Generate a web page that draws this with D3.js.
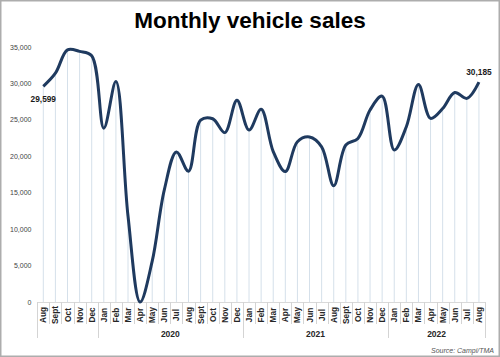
<!DOCTYPE html>
<html><head><meta charset="utf-8">
<script src="https://cdn.jsdelivr.net/npm/d3@7"></script>
<style>body{margin:0;background:#fff}svg{display:block}</style>
</head><body>
<svg id="c" width="500" height="357"></svg>
<script>
const months = ["Aug","Sept","Oct","Nov","Dec","Jan","Feb","Mar","Apr","May","Jun","Jul","Aug","Sept","Oct","Nov","Dec","Jan","Feb","Mar","Apr","May","Jun","Jul","Aug","Sept","Oct","Nov","Dec","Jan","Feb","Mar","Apr","May","Jun","Jul","Aug"];
const years = [{label:"",from:0,to:4},{label:"2020",from:5,to:16},{label:"2021",from:17,to:28},{label:"2022",from:29,to:36}];
const sales = [29599,31400,34600,34400,33800,23850,30250,11800,0,5600,15400,20600,17950,24950,25150,23250,27700,23600,26450,20650,17900,22000,22650,21300,15950,21550,22450,26350,28250,20850,24050,29850,25200,26550,28750,27950,30185];
const yTicks = [0,5000,10000,15000,20000,25000,30000,35000];
const title = "Monthly vehicle sales";
const source = "Source: Campi/TMA";

const svg = d3.select("#c");
const W=500,H=357;
svg.append("rect").attr("x",0.75).attr("y",0.75).attr("width",W-1.5).attr("height",H-1.5).attr("fill","#fff").attr("stroke","#adadad").attr("stroke-width",1.5);

const x = d3.scaleBand().domain(d3.range(months.length)).range([37.25,485]).padding(0);
const y = d3.scaleLinear().domain([0,35000]).range([302,47]);
const cx = i => x(i)+x.bandwidth()/2;

svg.append("text").attr("x",250).attr("y",28).attr("text-anchor","middle")
  .attr("font-family","Liberation Sans, Arial, sans-serif").attr("font-weight","bold").attr("font-size",22.5).attr("fill","#000").text(title);

svg.append("g").selectAll("text").data(yTicks).join("text")
  .attr("x",31.5).attr("y",d=>y(d)+2.5).attr("text-anchor","end")
  .attr("font-family","Liberation Sans, Arial, sans-serif").attr("font-size",7).attr("fill","#444")
  .text(d=>d3.format(",")(d));

svg.append("g").selectAll("line").data(sales).join("line")
  .attr("x1",(d,i)=>cx(i)).attr("x2",(d,i)=>cx(i)).attr("y1",d=>y(d)).attr("y2",y(0))
  .attr("stroke","#d5e0ea").attr("stroke-width",1);

svg.append("line").attr("x1",x.range()[0]).attr("x2",x.range()[1]).attr("y1",y(0)+0.5).attr("y2",y(0)+0.5).attr("stroke","#d9d9d9");

const bounds = d3.range(months.length+1).map(i=> i<months.length ? x(i) : x.range()[1]);
const yearBounds = new Set([0,5,17,29,37]);
svg.append("g").selectAll("line").data(bounds).join("line")
  .attr("x1",d=>Math.round(d)+0.5).attr("x2",d=>Math.round(d)+0.5)
  .attr("y1",y(0)).attr("y2",(d,i)=>yearBounds.has(i)?338:324)
  .attr("stroke","#d4d4d4").attr("stroke-width",1);

svg.append("g").selectAll("text").data(months).join("text")
  .attr("transform",(d,i)=>`translate(${cx(i)+3},315) rotate(-90)`)
  .attr("text-anchor","middle")
  .attr("font-family","Liberation Sans, Arial, sans-serif").attr("font-weight","bold").attr("font-size",8.3).attr("fill","#262626")
  .text(d=>d);

svg.append("g").selectAll("text").data(years.filter(d=>d.label)).join("text")
  .attr("x",d=>(cx(d.from)+cx(d.to))/2).attr("y",336.5).attr("text-anchor","middle")
  .attr("font-family","Liberation Sans, Arial, sans-serif").attr("font-weight","bold").attr("font-size",8.5).attr("fill","#262626")
  .text(d=>d.label);

const line = d3.line().x((d,i)=>cx(i)).y(d=>y(d)).curve(d3.curveCatmullRom.alpha(0.5));
svg.append("path").datum(sales).attr("d",line).attr("fill","none").attr("stroke","#1f3a5f").attr("stroke-width",3).attr("stroke-linejoin","round");

const last = sales.length-1;
svg.append("text").attr("x",cx(0)).attr("y",y(sales[0])+16).attr("text-anchor","middle")
  .attr("font-family","Liberation Sans, Arial, sans-serif").attr("font-weight","bold").attr("font-size",8.3).attr("fill","#1a1a1a").text(d3.format(",")(sales[0]));
svg.append("text").attr("x",cx(last)).attr("y",y(sales[last])-7).attr("text-anchor","middle")
  .attr("font-family","Liberation Sans, Arial, sans-serif").attr("font-weight","bold").attr("font-size",8.3).attr("fill","#1a1a1a").text(d3.format(",")(sales[last]));

svg.append("text").attr("x",494).attr("y",352.5).attr("text-anchor","end")
  .attr("font-family","Liberation Sans, Arial, sans-serif").attr("font-style","italic").attr("font-size",7).attr("fill","#555").text(source);
</script>
</body></html>
